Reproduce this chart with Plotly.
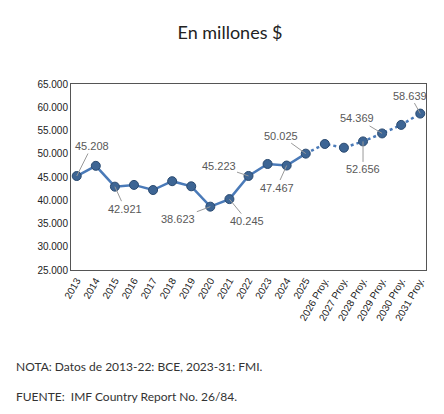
import plotly.graph_objects as go

years = ["2013","2014","2015","2016","2017","2018","2019","2020","2021","2022","2023","2024","2025",
         "2026 Proy.","2027 Proy.","2028 Proy.","2029 Proy.","2030 Proy.","2031 Proy."]
values = [45208,47400,42921,43300,42200,44100,43000,38623,40245,45223,47800,47467,50025,
          52100,51300,52656,54369,56200,58639]
hist_n = 13
labels = {0:"45.208",2:"42.921",7:"38.623",8:"40.245",9:"45.223",11:"47.467",12:"50.025",
          15:"52.656",16:"54.369",18:"58.639"}
offsets = {0:(15,-30),2:(10,22),7:(-32,12),8:(18,22),9:(-30,-10),11:(-10,22),12:(-25,-18),
           15:(0,28),16:(-25,-15),18:(-10,-18)}

fig = go.Figure()
fig.add_trace(go.Scatter(x=years[:hist_n], y=values[:hist_n], mode="lines",
                         line=dict(color="#4a7ab8", width=2.5), showlegend=False))
fig.add_trace(go.Scatter(x=years[hist_n-1:], y=values[hist_n-1:], mode="lines",
                         line=dict(color="#4a7ab8", width=2.5, dash="dot"), showlegend=False))
fig.add_trace(go.Scatter(x=years, y=values, mode="markers",
                         marker=dict(size=9, color="#3d6594", line=dict(color="#2a4a70", width=1)),
                         showlegend=False))
for i, t in labels.items():
    ax, ay = offsets[i]
    fig.add_annotation(x=i, y=values[i], text=t, ax=ax, ay=ay, showarrow=True,
                       arrowhead=0, arrowwidth=1, arrowcolor="#999999",
                       font=dict(size=11, color="#595959", family="Liberation Sans"))
fig.add_annotation(xref="paper", yref="paper", x=-0.16, y=-0.57, xanchor="left", showarrow=False,
                   text="NOTA: Datos de 2013-22: BCE, 2023-31: FMI.",
                   font=dict(size=12, color="#333333", family="Lato"))
fig.add_annotation(xref="paper", yref="paper", x=-0.16, y=-0.73, xanchor="left", showarrow=False,
                   text="FUENTE:  IMF Country Report No. 26/84.",
                   font=dict(size=12, color="#333333", family="Lato"))
fig.update_layout(
    width=444, height=414, separators=",.",
    paper_bgcolor="white", plot_bgcolor="white",
    margin=dict(l=63, r=26, t=76, b=152, autoexpand=False),
    title=dict(text="En millones $", x=0.5, y=0.955, xanchor="center",
               font=dict(size=18, color="#222222", family="Lato")),
    font=dict(family="Liberation Sans", size=10, color="#222222"),
)
fig.update_xaxes(type="category", tickangle=-60, showgrid=False, showline=True, automargin=False,
                 linecolor="#555555", mirror=True, range=[-0.3, 18.3], tickfont=dict(size=10))
fig.update_yaxes(range=[25000, 65000], dtick=5000, tickformat=",d", showgrid=False, automargin=False,
                 showline=True, linecolor="#555555", mirror=True, tickfont=dict(size=10))
fig.write_html("out.html")
